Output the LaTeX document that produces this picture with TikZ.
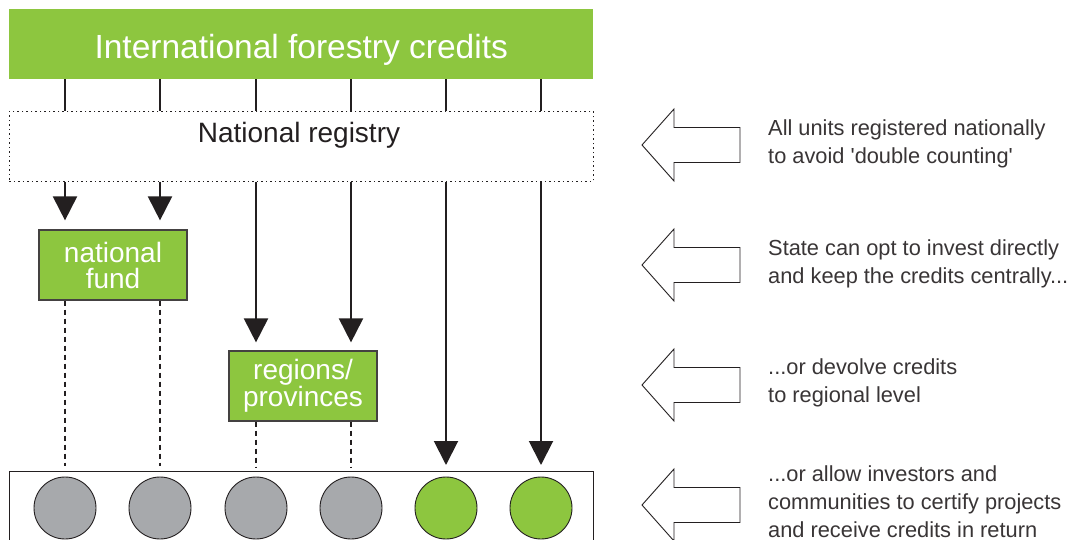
\documentclass[tikz,border=0pt]{standalone}
\usepackage{fontspec}
\setmainfont{Liberation Sans}
\usetikzlibrary{arrows.meta, positioning, calc}
\definecolor{leaf}{HTML}{8DC63F}
\definecolor{stone}{HTML}{A7A9AC}
\definecolor{ink}{HTML}{231F20}

\tikzset{
  greenbox/.style={fill=leaf, draw=ink!85, line width=1.2pt, text=white, inner sep=0pt,
    align=center, minimum width=148pt, minimum height=70pt, font=\fontsize{28}{26}\selectfont},
  link/.style={ink, line width=2pt},
  feed/.style={ink, line width=2pt, -{Triangle[width=24pt,length=24pt]}},
  dashlink/.style={ink, line width=2.3pt, dash pattern=on 5pt off 4pt},
  blockarrow/.style={ink, line width=0.9pt, line join=miter},
  note/.style={anchor=west, align=left, inner sep=0pt, text=ink!90, font=\fontsize{21.8}{28}\selectfont}
}

\begin{document}
\begin{tikzpicture}[x=1pt, y=-1pt]
  \useasboundingbox (0,0) rectangle (1084,540);
  \fill[white] (0,0) rectangle (1084,540);
  \clip (0,0) rectangle (1084,540);

  % top and registry
  \node[fill=leaf, text=white, inner sep=0pt, anchor=north west, minimum width=584pt, minimum height=70pt,
        text height=29pt, text depth=0pt, font=\fontsize{33.5}{40}\selectfont] (intl) at (9,9) {International forestry credits};
  \node[draw=ink, line width=0.9pt, dash pattern=on 1.5pt off 3pt, anchor=north west,
        minimum width=584pt, minimum height=70pt] (reg) at (9,111) {};
  \node[font=\fontsize{28}{32}\selectfont, text=ink, inner sep=0pt] (regtext) at (299,135) {National registry};

  % intermediate levels
  \node[greenbox] (fund) at (113,265) {national\\fund};
  \node[greenbox] (regions) at (303,386) {regions/\\provinces};

  % local level
  \node[draw=ink, line width=0.9pt, anchor=north west, minimum width=584pt, minimum height=90pt] (local) at (9,471) {};
  \foreach \x [count=\i] in {65,160,256,351,446,541}{
    \ifnum\i<5
      \node[circle, fill=stone, draw=ink, line width=0.9pt, minimum size=62pt] (c\i) at (\x,508) {};
    \else
      \node[circle, fill=leaf, draw=ink, line width=0.9pt, minimum size=62pt] (c\i) at (\x,508) {};
    \fi
  }

  % connectors
  \foreach \i in {1,...,6}
    \draw[link] (intl.south -| c\i) -- (reg.north -| c\i);
  \foreach \i in {1,2}{
    \draw[feed, shorten >=9pt] (reg.south -| c\i) -- (fund.north -| c\i);
    \draw[dashlink, shorten >=5pt] (fund.south -| c\i) -- (local.north -| c\i);
  }
  \foreach \i in {3,4}{
    \draw[feed, shorten >=8pt] (reg.south -| c\i) -- (regions.north -| c\i);
    \draw[dashlink, shorten >=3pt] (regions.south -| c\i) -- (local.north -| c\i);
  }
  \foreach \i in {5,6}
    \draw[feed, shorten >=6pt] (reg.south -| c\i) -- (local.north -| c\i);

  % notes on the right
  \foreach \c/\dy/\txt [count=\i] in {145/1/{All units registered nationally\\to avoid \textquotesingle double counting\textquotesingle},
      265/1/{State can opt to invest directly\\and keep the credits centrally...},
      385/2/{...or devolve credits\\to regional level},
      505/3/{...or allow investors and\\communities to certify projects\\and receive credits in return}}{
    \draw[blockarrow] (642,\c) -- (674,\c-36) -- (674,\c-17.5) -- (740,\c-17.5)
      -- (740,\c+17.5) -- (674,\c+17.5) -- (674,\c+36) -- cycle;
    \node[note] (n\i) at (768,\c-\dy) {\txt};
  }
\end{tikzpicture}
\end{document}
